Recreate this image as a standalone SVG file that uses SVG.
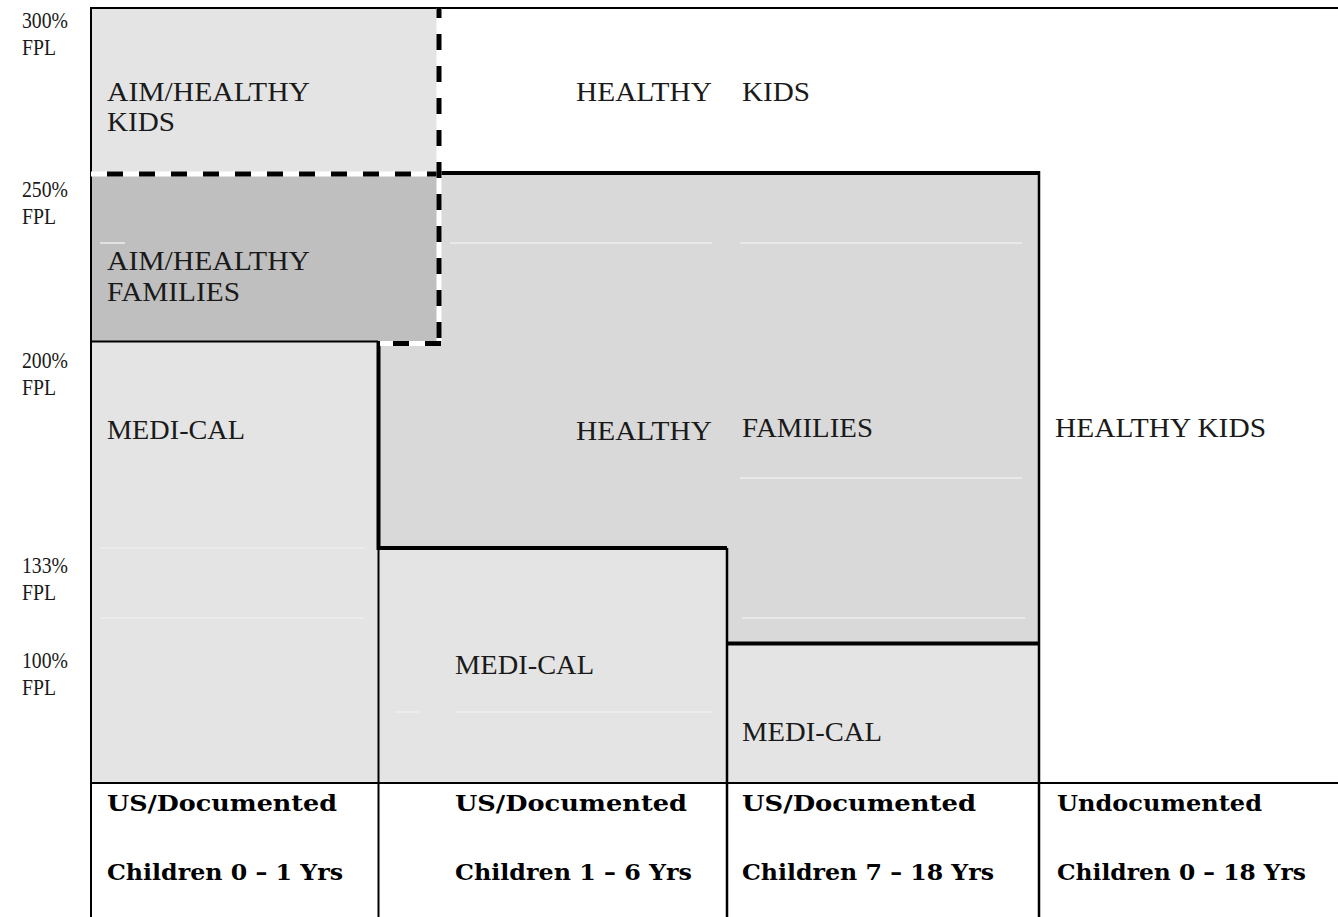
<svg xmlns="http://www.w3.org/2000/svg" width="1338" height="917" viewBox="0 0 1338 917">
<style>
.t{font-family:"Liberation Serif","Times New Roman",serif;font-size:27px;fill:#1a1a1a}
.l{font-family:"Liberation Serif","Times New Roman",serif;font-size:24px;fill:#1a1a1a}
.b{font-family:"DejaVu Serif","Liberation Serif",serif;font-size:23px;font-weight:bold;fill:#000}
.solid{stroke:#000;fill:none}
.faint{stroke:#eeeeee;stroke-width:1.5;fill:none}
.dash{stroke:#000;stroke-width:5;stroke-dasharray:16 16;fill:none}
.dashbg{stroke:#fff;stroke-width:5;fill:none}
</style>
<rect width="1338" height="917" fill="#fff"/>

<g id="regions">
  <rect id="aim-kids-bg" x="91" y="8" width="348" height="166" fill="#e4e4e4"/>
  <rect id="aim-families-bg" x="91" y="174" width="348" height="168" fill="#bfbfbf"/>
  <path id="medical-bg" d="M91,342 H378 V548 H727 V644 H1039 V783 H91 Z" fill="#e4e4e4"/>
  <path id="hf-bg" d="M439,173 H1039 V644 H727 V548 H378 V343 H439 Z" fill="#d9d9d9"/>
</g>

<g id="faint-grid">
  <line class="faint" x1="450" y1="243" x2="712" y2="243"/>
  <line class="faint" x1="740" y1="243" x2="1022" y2="243"/>
  <line class="faint" x1="100" y1="243" x2="125" y2="243"/>
  <line class="faint" x1="740" y1="478" x2="1022" y2="478"/>
  <line class="faint" x1="742" y1="618" x2="1025" y2="618"/>
  <line class="faint" x1="100" y1="618" x2="365" y2="618"/>
  <line class="faint" x1="100" y1="548" x2="365" y2="548"/>
  <line class="faint" x1="455" y1="712" x2="712" y2="712"/>
  <line class="faint" x1="395" y1="712" x2="420" y2="712"/>
</g>

<g id="connectors">
  <line class="solid" stroke-width="2" x1="90" y1="8" x2="1338" y2="8"/>
  <line class="solid" stroke-width="2" x1="91" y1="7" x2="91" y2="917"/>
  <line class="solid" stroke-width="2" x1="91" y1="783" x2="1338" y2="783"/>
  <line class="solid" stroke-width="2" x1="91" y1="341.5" x2="378" y2="341.5"/>
  <path class="solid" stroke-width="4" d="M439,173 H1039"/>
  <line class="solid" stroke-width="2.5" x1="1039" y1="171" x2="1039" y2="917"/>
  <path class="solid" stroke-width="4" d="M1039,643.5 H727"/>
  <line class="solid" stroke-width="2.5" x1="727" y1="548" x2="727" y2="917"/>
  <path class="solid" stroke-width="4" d="M727,548 H378.5 V341"/>
  <line class="solid" stroke-width="2" x1="378.5" y1="548" x2="378.5" y2="917"/>
  <line class="dashbg" x1="91" y1="174" x2="441" y2="174"/>
  <line class="dash" x1="91" y1="174" x2="441" y2="174" stroke-dashoffset="16"/>
  <line class="dashbg" x1="380" y1="343.5" x2="441" y2="343.5"/>
  <line class="dash" x1="378" y1="343.5" x2="441" y2="343.5" stroke-dashoffset="17"/>
  <line class="dashbg" x1="439" y1="8" x2="439" y2="341"/>
  <line class="dash" x1="439" y1="8" x2="439" y2="346" stroke-dashoffset="6"/>
</g>

<g id="axis-labels">
  <text class="l" x="22" y="28" textLength="46" lengthAdjust="spacingAndGlyphs">300%</text><text class="l" x="22" y="55" textLength="34" lengthAdjust="spacingAndGlyphs">FPL</text>
  <text class="l" x="22" y="197" textLength="46" lengthAdjust="spacingAndGlyphs">250%</text><text class="l" x="22" y="224" textLength="34" lengthAdjust="spacingAndGlyphs">FPL</text>
  <text class="l" x="22" y="368" textLength="46" lengthAdjust="spacingAndGlyphs">200%</text><text class="l" x="22" y="395" textLength="34" lengthAdjust="spacingAndGlyphs">FPL</text>
  <text class="l" x="22" y="573" textLength="46" lengthAdjust="spacingAndGlyphs">133%</text><text class="l" x="22" y="600" textLength="34" lengthAdjust="spacingAndGlyphs">FPL</text>
  <text class="l" x="22" y="668" textLength="46" lengthAdjust="spacingAndGlyphs">100%</text><text class="l" x="22" y="695" textLength="34" lengthAdjust="spacingAndGlyphs">FPL</text>
</g>

<g id="node-aim-kids">
  <text class="t" x="107" y="101" textLength="203" lengthAdjust="spacingAndGlyphs">AIM/HEALTHY</text>
  <text class="t" x="107" y="131" textLength="68" lengthAdjust="spacingAndGlyphs">KIDS</text>
</g>
<g id="node-healthy-kids-top">
  <text class="t" x="576" y="101" textLength="136" lengthAdjust="spacingAndGlyphs">HEALTHY</text>
  <text class="t" x="742" y="101" textLength="68" lengthAdjust="spacingAndGlyphs">KIDS</text>
</g>
<g id="node-aim-families">
  <text class="t" x="107" y="270" textLength="203" lengthAdjust="spacingAndGlyphs">AIM/HEALTHY</text>
  <text class="t" x="107" y="301" textLength="133" lengthAdjust="spacingAndGlyphs">FAMILIES</text>
</g>
<g id="node-medical-left">
  <text class="t" x="107" y="439" textLength="138" lengthAdjust="spacingAndGlyphs">MEDI-CAL</text>
</g>
<g id="node-healthy-families">
  <text class="t" x="576" y="440" textLength="136" lengthAdjust="spacingAndGlyphs">HEALTHY</text>
  <text class="t" x="742" y="437" textLength="131" lengthAdjust="spacingAndGlyphs">FAMILIES</text>
</g>
<g id="node-healthy-kids-right">
  <text class="t" x="1055" y="437" textLength="211" lengthAdjust="spacingAndGlyphs">HEALTHY KIDS</text>
</g>
<g id="node-medical-mid">
  <text class="t" x="455" y="674" textLength="139" lengthAdjust="spacingAndGlyphs">MEDI-CAL</text>
</g>
<g id="node-medical-right">
  <text class="t" x="742" y="741" textLength="140" lengthAdjust="spacingAndGlyphs">MEDI-CAL</text>
</g>

<g id="col-1">
  <text class="b" x="107" y="811" textLength="230" lengthAdjust="spacingAndGlyphs">US/Documented</text>
  <text class="b" x="107" y="880" textLength="236" lengthAdjust="spacingAndGlyphs">Children 0 – 1 Yrs</text>
</g>
<g id="col-2">
  <text class="b" x="455" y="811" textLength="232" lengthAdjust="spacingAndGlyphs">US/Documented</text>
  <text class="b" x="455" y="880" textLength="237" lengthAdjust="spacingAndGlyphs">Children 1 – 6 Yrs</text>
</g>
<g id="col-3">
  <text class="b" x="742" y="811" textLength="234" lengthAdjust="spacingAndGlyphs">US/Documented</text>
  <text class="b" x="742" y="880" textLength="252" lengthAdjust="spacingAndGlyphs">Children 7 – 18 Yrs</text>
</g>
<g id="col-4">
  <text class="b" x="1057" y="811" textLength="205" lengthAdjust="spacingAndGlyphs">Undocumented</text>
  <text class="b" x="1057" y="880" textLength="249" lengthAdjust="spacingAndGlyphs">Children 0 – 18 Yrs</text>
</g>
</svg>
